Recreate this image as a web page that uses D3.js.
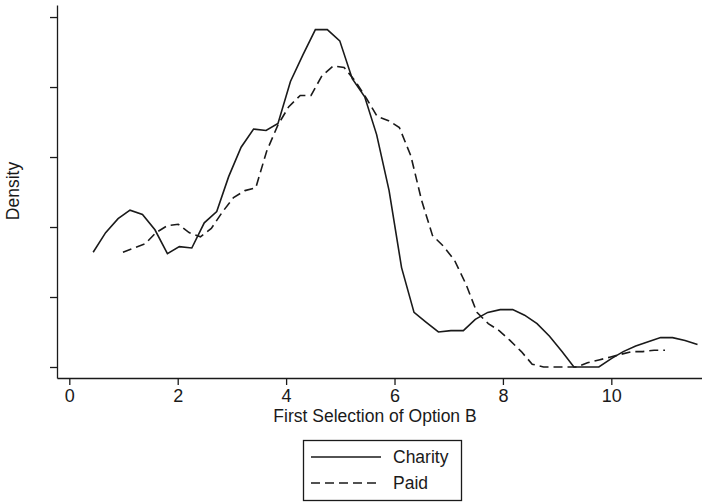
<!DOCTYPE html>
<html>
<head>
<meta charset="utf-8">
<script src="https://cdn.jsdelivr.net/npm/d3@7"></script>
<style>
  body { margin: 0; background: #fff; }
  text { font-family: "Liberation Sans", Arial, sans-serif; fill: #1a1a1a; }
</style>
</head>
<body>
<div id="chart"></div>
<script>
// kernel density estimates
var charity_x = [0.44, 0.67, 0.90, 1.12, 1.35, 1.58, 1.81, 2.03, 2.26, 2.49,
  2.72, 2.94, 3.17, 3.40, 3.63, 3.85, 4.08, 4.31, 4.54, 4.76,
  4.99, 5.22, 5.45, 5.67, 5.90, 6.13, 6.36, 6.58, 6.81, 7.04,
  7.27, 7.49, 7.72, 7.95, 8.18, 8.40, 8.63, 8.86, 9.09, 9.31,
  9.54, 9.77, 10.00, 10.22, 10.45, 10.68, 10.91, 11.13, 11.36, 11.59];
var charity_y = [0.082, 0.096, 0.106, 0.112, 0.109, 0.098, 0.081, 0.086, 0.085, 0.103,
  0.111, 0.136, 0.157, 0.170, 0.169, 0.174, 0.204, 0.223, 0.241, 0.241,
  0.233, 0.206, 0.193, 0.166, 0.126, 0.071, 0.039, 0.032, 0.025, 0.026,
  0.026, 0.034, 0.039, 0.041, 0.041, 0.037, 0.031, 0.022, 0.011, 0.000,
  0.000, 0.000, 0.006, 0.011, 0.015, 0.018, 0.021, 0.021, 0.019, 0.016];

var paid_x = [0.99, 1.19, 1.40, 1.60, 1.81, 2.01, 2.21, 2.42, 2.62, 2.83,
  3.03, 3.24, 3.44, 3.64, 3.85, 4.05, 4.26, 4.46, 4.66, 4.87,
  5.07, 5.28, 5.48, 5.68, 5.89, 6.09, 6.30, 6.50, 6.70, 6.91,
  7.11, 7.32, 7.52, 7.73, 7.93, 8.13, 8.34, 8.54, 8.75, 8.95,
  9.15, 9.36, 9.56, 9.77, 9.97, 10.17, 10.38, 10.58, 10.79, 10.99];
var paid_y = [0.082, 0.085, 0.088, 0.096, 0.101, 0.102, 0.096, 0.093, 0.099, 0.111,
  0.121, 0.126, 0.128, 0.154, 0.173, 0.186, 0.194, 0.194, 0.208, 0.215,
  0.214, 0.204, 0.192, 0.179, 0.176, 0.171, 0.151, 0.119, 0.094, 0.086,
  0.076, 0.059, 0.039, 0.031, 0.026, 0.019, 0.011, 0.002, 0.000, 0.000,
  0.000, 0.000, 0.003, 0.005, 0.007, 0.009, 0.011, 0.011, 0.012, 0.012];

var x_ticks = [0, 2, 4, 6, 8, 10];
var y_ticks = [0, 0.05, 0.10, 0.15, 0.20, 0.25];
var series_names = ["Charity", "Paid"];

var W = 702, H = 503;
var svg = d3.select('#chart').append('svg')
  .attr('width', W).attr('height', H);

var xScale = d3.scaleLinear().domain([-0.227, 11.673]).range([57, 702]);
var yScale = d3.scaleLinear().domain([-0.00786, 0.2586]).range([378, 5]);

var ink = '#1a1a1a';

// x axis
var xAxis = svg.append('g')
  .attr('transform', 'translate(0,378)')
  .call(d3.axisBottom(xScale).tickValues(x_ticks).tickSize(7).tickPadding(4).tickSizeOuter(0));
// y axis, ticks only
var yAxis = svg.append('g')
  .attr('transform', 'translate(57,0)')
  .call(d3.axisLeft(yScale).tickValues(y_ticks).tickSize(7).tickFormat('').tickSizeOuter(0));

[xAxis, yAxis].forEach(function(g) {
  g.select('.domain').attr('stroke', ink).attr('stroke-width', 1.3);
  g.selectAll('.tick line').attr('stroke', ink).attr('stroke-width', 1.3);
  g.selectAll('.tick text').attr('fill', ink)
    .style('font-family', '"Liberation Sans", Arial, sans-serif')
    .style('font-size', '18px');
});

svg.append('text')
  .attr('x', 375).attr('y', 422)
  .attr('text-anchor', 'middle')
  .style('font-size', '17.5px')
  .text('First Selection of Option B');

svg.append('text')
  .attr('transform', 'translate(19,191) rotate(-90)')
  .attr('text-anchor', 'middle')
  .style('font-size', '17.5px')
  .text('Density');

var line = d3.line()
  .x(function(d) { return xScale(d[0]); })
  .y(function(d) { return yScale(d[1]); });

var charity = charity_x.map(function(v, i) { return [v, charity_y[i]]; });
var paid = paid_x.map(function(v, i) { return [v, paid_y[i]]; });

svg.append('path')
  .datum(paid)
  .attr('d', line)
  .attr('fill', 'none')
  .attr('stroke', ink)
  .attr('stroke-width', 1.6)
  .attr('stroke-dasharray', '9,5');

svg.append('path')
  .datum(charity)
  .attr('d', line)
  .attr('fill', 'none')
  .attr('stroke', ink)
  .attr('stroke-width', 1.6);

// legend
var legend = svg.append('g');
legend.append('rect')
  .attr('x', 303.5).attr('y', 440.5)
  .attr('width', 158).attr('height', 60)
  .attr('fill', '#fff')
  .attr('stroke', ink).attr('stroke-width', 1.3);

var dashes = [null, '9,5'];
series_names.forEach(function(name, i) {
  var yy = 457 + i * 26;
  legend.append('line')
    .attr('x1', 311).attr('x2', 381)
    .attr('y1', yy).attr('y2', yy)
    .attr('stroke', ink).attr('stroke-width', 1.6)
    .attr('stroke-dasharray', dashes[i]);
  legend.append('text')
    .attr('x', 393).attr('y', yy + 6)
    .style('font-size', '17.5px')
    .text(name);
});
</script>
</body>
</html>
